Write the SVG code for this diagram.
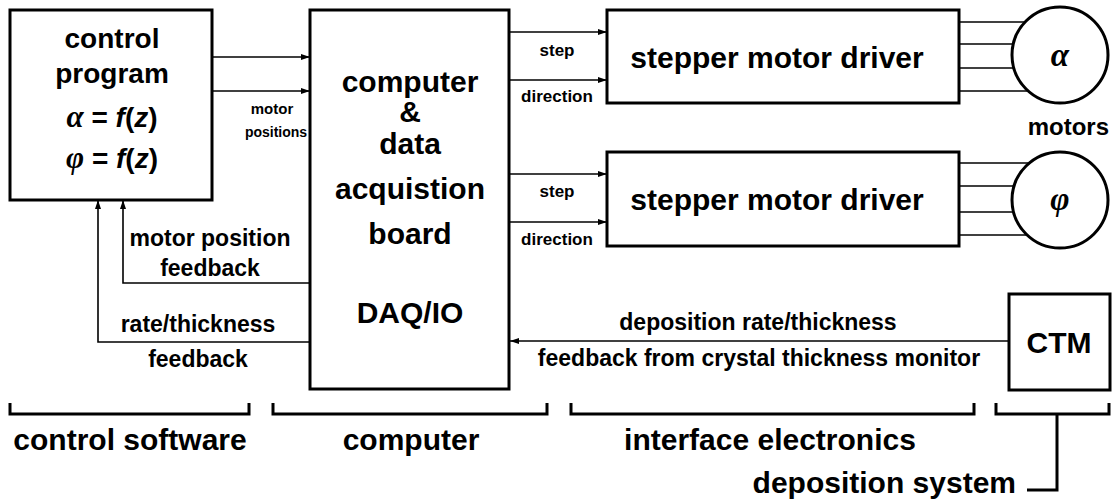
<svg xmlns="http://www.w3.org/2000/svg" width="1113" height="503" viewBox="0 0 1113 503">
<defs>
<style>
.box{fill:#fff;stroke:#000;stroke-width:3}
.ln{fill:none;stroke:#000;stroke-width:1.6}
.br{fill:none;stroke:#000;stroke-width:3}
text{font-family:"Liberation Sans",Arial,sans-serif;font-weight:bold;fill:#000}
.big{font-size:30px;text-anchor:middle}
.mid{font-size:23px;text-anchor:middle}
.sm{font-size:17px;text-anchor:middle}
.greek{font-family:"Liberation Serif","DejaVu Serif",serif;font-style:italic;font-weight:bold}
.it{font-style:italic}
</style>
<marker id="ah" markerWidth="9" markerHeight="6" refX="9" refY="3" orient="auto" markerUnits="userSpaceOnUse">
<path d="M0,0 L9,3 L0,6 z" fill="#000"/>
</marker>
</defs>
<rect width="1113" height="503" fill="#fff"/>

<g id="control-program">
<rect class="box" x="10" y="10" width="202" height="190"/>
<text class="big" x="112" y="48" style="font-size:28px">control</text>
<text class="big" x="112" y="83" style="font-size:28px">program</text>
<text class="big" x="112" y="127" style="font-size:28px"><tspan class="greek" style="font-size:31px">α</tspan> = <tspan class="it">f</tspan>(<tspan class="it">z</tspan>)</text>
<text class="big" x="112" y="168" style="font-size:28px"><tspan class="greek" style="font-size:31px">φ</tspan> = <tspan class="it">f</tspan>(<tspan class="it">z</tspan>)</text>
</g>

<g id="computer">
<rect class="box" x="310" y="10" width="199" height="379"/>
<text class="big" x="410" y="92">computer</text>
<text class="big" x="410" y="122">&amp;</text>
<text class="big" x="410" y="154">data</text>
<text class="big" x="410" y="199">acquistion</text>
<text class="big" x="410" y="244">board</text>
<text class="big" x="410" y="323">DAQ/IO</text>
</g>

<g id="driver1">
<rect class="box" x="607" y="10" width="352" height="93"/>
<text class="big" x="777" y="68">stepper motor driver</text>
</g>
<g id="driver2">
<rect class="box" x="607" y="152" width="352" height="94"/>
<text class="big" x="777" y="210">stepper motor driver</text>
</g>

<g id="motor-alpha">
<circle class="box" cx="1060" cy="55" r="48"/>
<text class="big greek" x="1060" y="66" style="font-size:33px">α</text>
</g>
<g id="motor-phi">
<circle class="box" cx="1060" cy="200" r="48"/>
<text class="big greek" x="1060" y="210" style="font-size:33px">φ</text>
</g>
<g id="motors-label">
<text x="1109" y="135" style="font-size:24px;text-anchor:end">motors</text>
</g>

<g id="ctm">
<rect class="box" x="1009" y="294" width="101" height="96"/>
<text class="big" x="1059" y="353">CTM</text>
</g>

<g id="connectors">
<line class="ln" x1="212" y1="57" x2="310" y2="57" marker-end="url(#ah)"/>
<line class="ln" x1="212" y1="91" x2="310" y2="91" marker-end="url(#ah)"/>
<line class="ln" x1="509" y1="32" x2="607" y2="32" marker-end="url(#ah)"/>
<line class="ln" x1="509" y1="80" x2="607" y2="80" marker-end="url(#ah)"/>
<line class="ln" x1="509" y1="174" x2="607" y2="174" marker-end="url(#ah)"/>
<line class="ln" x1="509" y1="222" x2="607" y2="222" marker-end="url(#ah)"/>
<line class="ln" x1="959" y1="22" x2="1025" y2="22"/>
<line class="ln" x1="959" y1="44" x2="1013" y2="44"/>
<line class="ln" x1="959" y1="68" x2="1014" y2="68"/>
<line class="ln" x1="959" y1="91" x2="1028" y2="91"/>
<line class="ln" x1="959" y1="163" x2="1029" y2="163"/>
<line class="ln" x1="959" y1="186" x2="1014" y2="186"/>
<line class="ln" x1="959" y1="212" x2="1014" y2="212"/>
<line class="ln" x1="959" y1="235" x2="1027" y2="235"/>
<line class="ln" x1="1009" y1="341" x2="510" y2="341" marker-end="url(#ah)"/>
<polyline class="ln" points="310,283 123,283 123,200" marker-end="url(#ah)"/>
<polyline class="ln" points="310,342 98,342 98,200" marker-end="url(#ah)"/>
</g>

<g id="connector-labels">
<text class="sm" x="272" y="114" style="font-size:15px">motor</text>
<text class="sm" x="276" y="137" style="font-size:14px">positions</text>
<text class="sm" x="557" y="56">step</text>
<text class="sm" x="557" y="102">direction</text>
<text class="sm" x="557" y="197">step</text>
<text class="sm" x="557" y="245">direction</text>
<text class="mid" x="210" y="246">motor position</text>
<text class="mid" x="210" y="276">feedback</text>
<text class="mid" x="198" y="332">rate/thickness</text>
<text class="mid" x="198" y="367">feedback</text>
<text class="mid" x="758" y="330">deposition rate/thickness</text>
<text class="mid" x="759" y="366">feedback from crystal thickness monitor</text>
</g>

<g id="brackets">
<polyline class="br" points="10,403 10,414 249,414 249,403"/>
<polyline class="br" points="273,403 273,414 547,414 547,403"/>
<polyline class="br" points="571,403 571,414 974,414 974,403"/>
<polyline class="br" points="996,403 996,414 1109,414 1109,403"/>
<polyline class="br" points="1057,414 1057,490 1027,490"/>
<text class="big" x="130" y="450">control software</text>
<text class="big" x="411" y="450">computer</text>
<text class="big" x="770" y="450">interface electronics</text>
<text class="big" x="1016" y="493" style="text-anchor:end">deposition system</text>
</g>
</svg>
